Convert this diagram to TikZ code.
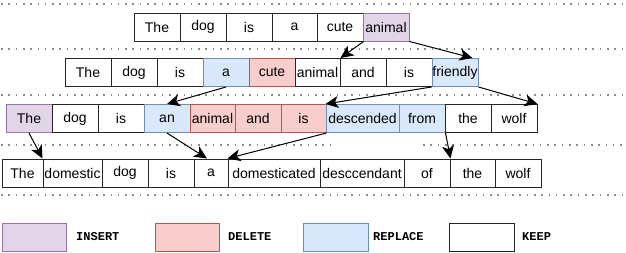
\documentclass[tikz,border=0pt]{standalone}
\usepackage{fontspec}
\setmainfont{Liberation Sans}
\newfontfamily\legfont{Liberation Mono}
\usetikzlibrary{arrows.meta}
\definecolor{insF}{HTML}{E1D5E7}\definecolor{insD}{HTML}{9673A6}
\definecolor{delF}{HTML}{F8CECC}\definecolor{delD}{HTML}{B85450}
\definecolor{repF}{HTML}{DAE8FC}\definecolor{repD}{HTML}{6C8EBF}
\begin{document}
\begin{tikzpicture}[x=1pt,y=-1pt,
  tok/.style={draw=black!85, line width=1pt, minimum height=28pt, inner sep=0pt, font=\fontsize{14}{16}\selectfont, anchor=center},
  keep/.style={tok, fill=white},
  ins/.style={tok, fill=insF, draw=insD},
  del/.style={tok, fill=delF, draw=delD},
  rep/.style={tok, fill=repF, draw=repD},
  w/.style={minimum width=#1pt},
  arr/.style={draw=black, line width=1pt, -{Stealth[length=13pt,width=12pt,inset=3.5pt]}},
  sep/.style={draw=black!45, line width=1.6pt, dash pattern=on 1.6pt off 5.7pt},
  legtxt/.style={anchor=west, inner sep=0pt, font=\legfont\bfseries\fontsize{12}{14}\selectfont}
]
\useasboundingbox (0,0) rectangle (626,252);
% separators
\draw[sep] (1,4) -- (626,4);
\draw[sep] (1,49) -- (626,49);
\draw[sep] (1,95) -- (626,95);
\draw[sep] (1,145) -- (333,145);
\draw[sep] (423,145) -- (626,145);
\draw[sep] (1,195) -- (626,195);
% row 1
\node[keep,w=46] (r1The) at (157,27) {The};
\node[keep,w=46] (r1dog) at (203,27) {dog};
\node[keep,w=46] (r1is) at (249,27) {is};
\node[keep,w=45] (r1a) at (294.5,27) {a};
\node[keep,w=46] (r1cute) at (340,27) {cute};
\node[ins,w=46] (r1animal) at (386,27) {animal};
% row 2
\node[keep,w=46] (r2The) at (88,72.5) {The};
\node[keep,w=46] (r2dog) at (134,72.5) {dog};
\node[keep,w=46] (r2is) at (180,72.5) {is};
\node[rep,w=46] (r2a) at (226,72.5) {a};
\node[del,w=46] (r2cute) at (272,72.5) {cute};
\node[keep,w=45] (r2animal) at (317.5,72.5) {animal};
\node[keep,w=46] (r2and) at (363,72.5) {and};
\node[keep,w=46] (r2is2) at (409,72.5) {is};
\node[rep,w=46] (r2friendly) at (455,72.5) {friendly};
% row 3
\node[ins,w=46] (r3The) at (29,118.5) {The};
\node[keep,w=46] (r3dog) at (75,118.5) {dog};
\node[keep,w=46] (r3is) at (121,118.5) {is};
\node[rep,w=46] (r3an) at (167,118.5) {an};
\node[del,w=45] (r3animal) at (212.5,118.5) {animal};
\node[del,w=46] (r3and) at (258,118.5) {and};
\node[del,w=45] (r3is2) at (303.5,118.5) {is};
\node[rep,w=73] (r3descended) at (362.5,118.5) {descended};
\node[rep,w=46] (r3from) at (422,118.5) {from};
\node[keep,w=46] (r3the) at (468,118.5) {the};
\node[keep,w=46] (r3wolf) at (514,118.5) {wolf};
% row 4
\node[keep,w=41] (r4The) at (22.5,173) {The};
\node[keep,w=59] (r4domestic) at (72.5,173) {domestic};
\node[keep,w=46] (r4dog) at (125,173) {dog};
\node[keep,w=46] (r4is) at (171,173) {is};
\node[keep,w=34] (r4a) at (211,173) {a};
\node[keep,w=92] (r4domesticated) at (274,173) {domesticated};
\node[keep,w=84] (r4desc) at (362,173) {desccendant};
\node[keep,w=46] (r4of) at (427,173) {of};
\node[keep,w=45] (r4the) at (472.5,173) {the};
\node[keep,w=46] (r4wolf) at (518,173) {wolf};
% arrows
\draw[arr] (r1cute.south east) -- (r2animal.north east);
\draw[arr] (r1animal.south east) -- ([xshift=-6pt]r2friendly.north east);
\draw[arr] (r2a.south) -- (r3an.north);
\draw[arr] (r2friendly.south west) -- (r3descended.north west);
\draw[arr] (r2friendly.south east) -- (r3wolf.north east);
\draw[arr] (r3The.south) -- (r4domestic.north west);
\draw[arr] (r3an.south) -- ([xshift=-4pt]r4a.north);
\draw[arr] (r3is2.south east) -- (r4domesticated.north west);
\draw[arr] (r3from.south east) -- (r4of.north east);
% legend
\node[ins,w=64] (lgins) at (34,237) {};
\node[legtxt] (lginst) at (76,237) {INSERT};
\node[del,w=64] (lgdel) at (187,237) {};
\node[legtxt] (lgdelt) at (228,237) {DELETE};
\node[rep,w=65] (lgrep) at (335.5,237) {};
\node[legtxt] (lgrept) at (373,237) {REPLACE};
\node[keep,w=65] (lgkeep) at (481.5,237) {};
\node[legtxt] (lgkeept) at (522,237) {KEEP};
\end{tikzpicture}
\end{document}
